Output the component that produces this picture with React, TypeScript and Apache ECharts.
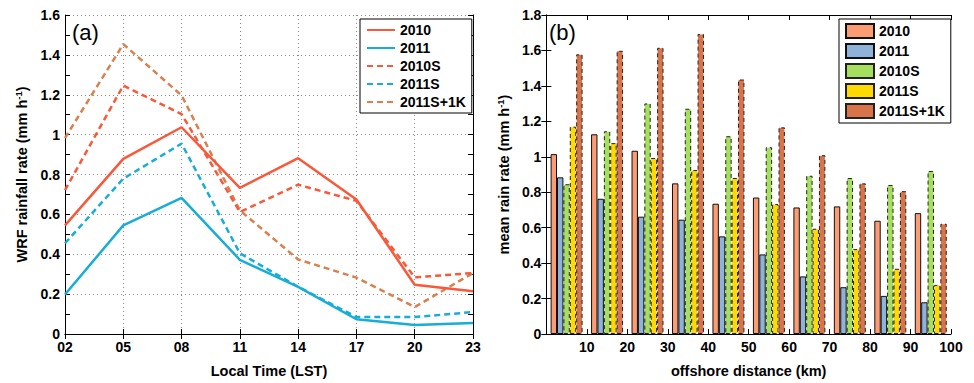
import React, { useEffect, useRef } from 'react';
import * as echarts from 'echarts';

// ---------- Panel (a): diurnal rainfall rate ----------
const hours = ['02', '05', '08', '11', '14', '17', '20', '23'];
const line2010 = [0.545, 0.878, 1.037, 0.733, 0.882, 0.675, 0.247, 0.215];
const line2011 = [0.198, 0.545, 0.683, 0.372, 0.236, 0.074, 0.045, 0.055];
const line2010S = [0.722, 1.246, 1.103, 0.612, 0.749, 0.668, 0.284, 0.306];
const line2011S = [0.455, 0.779, 0.955, 0.405, 0.237, 0.085, 0.085, 0.11];
const line2011S1K = [0.983, 1.454, 1.197, 0.62, 0.374, 0.283, 0.135, 0.306];

// ---------- Panel (b): mean rain rate vs offshore distance ----------
const binCenters = [5, 15, 25, 35, 45, 55, 65, 75, 85, 95];
const bar2010 = [1.015, 1.127, 1.034, 0.85, 0.735, 0.77, 0.714, 0.72, 0.639, 0.682];
const bar2011 = [0.884, 0.763, 0.662, 0.645, 0.551, 0.449, 0.325, 0.264, 0.215, 0.179];
const bar2010S = [0.845, 1.144, 1.301, 1.271, 1.116, 1.054, 0.893, 0.88, 0.841, 0.92];
const bar2011S = [1.17, 1.077, 0.993, 0.925, 0.88, 0.733, 0.594, 0.479, 0.368, 0.277];
const bar2011S1K = [1.578, 1.598, 1.615, 1.693, 1.436, 1.166, 1.009, 0.85, 0.806, 0.622];

const seriesNames = ['2010', '2011', '2010S', '2011S', '2011S+1K'];

const FONT = '"Liberation Sans", Arial, Helvetica, sans-serif';
const BLACK = '#000';

const tickLabel = { color: BLACK, fontWeight: 'bold' as const, fontSize: 14, fontFamily: FONT };
const nameStyle = {
  color: BLACK,
  fontWeight: 'bold' as const,
  fontSize: 14.5,
  fontFamily: FONT,
  rich: {
    sup: { fontSize: 9.5, fontWeight: 'bold' as const, fontFamily: FONT, color: BLACK, padding: [0, 0, 7, 0] },
  },
};
const legendBase = {
  orient: 'vertical' as const,
  top: 19,
  itemWidth: 28,
  itemHeight: 14,
  itemGap: 4,
  padding: [4, 6, 4, 6],
  borderColor: BLACK,
  borderWidth: 1,
  backgroundColor: '#fff',
  textStyle: { color: BLACK, fontWeight: 'bold' as const, fontSize: 14, fontFamily: FONT },
};

function leftOption(): any {
  const lineColors = ['#F9583A', '#17ADD7', '#F9583A', '#17ADD7', '#D9804F'];
  const lineData = [line2010, line2011, line2010S, line2011S, line2011S1K];
  return {
    animation: false,
    textStyle: { fontFamily: FONT },
    grid: { left: 65, top: 15, width: 408, height: 321 },
    legend: { ...legendBase, left: 360, data: seriesNames, itemStyle: { opacity: 0 } },
    xAxis: [
      {
        type: 'category',
        data: hours,
        boundaryGap: false,
        axisLine: { lineStyle: { color: BLACK, width: 1 } },
        axisTick: { inside: true, length: 5, lineStyle: { color: BLACK } },
        axisLabel: { ...tickLabel, margin: 6 },
        splitLine: { show: true, lineStyle: { color: '#8a8a8a', type: [1, 3], width: 1 } },
        name: 'Local Time (LST)',
        nameLocation: 'middle',
        nameGap: 29,
        nameTextStyle: nameStyle,
      },
      {
        type: 'category',
        data: hours,
        boundaryGap: false,
        position: 'top',
        axisLine: { lineStyle: { color: BLACK, width: 1 } },
        axisTick: { inside: true, length: 5, lineStyle: { color: BLACK } },
        axisLabel: { show: false },
        splitLine: { show: false },
      },
    ],
    yAxis: [
      {
        type: 'value',
        min: 0,
        max: 1.6,
        interval: 0.2,
        axisLine: { show: true, lineStyle: { color: BLACK, width: 1 } },
        axisTick: { show: true, inside: true, length: 5, lineStyle: { color: BLACK } },
        minorTick: { show: true, splitNumber: 2, length: 5, lineStyle: { color: BLACK } },
        axisLabel: { ...tickLabel, margin: 5 },
        splitLine: { show: true, lineStyle: { color: '#8a8a8a', type: [1, 3], width: 1 } },
        name: 'WRF rainfall rate (mm h{sup|-1})',
        nameLocation: 'middle',
        nameGap: 35,
        nameTextStyle: nameStyle,
      },
      {
        type: 'value',
        min: 0,
        max: 1.6,
        interval: 0.2,
        position: 'right',
        axisLine: { show: true, lineStyle: { color: BLACK, width: 1 } },
        axisTick: { show: true, inside: true, length: 5, lineStyle: { color: BLACK } },
        minorTick: { show: true, splitNumber: 2, length: 5, lineStyle: { color: BLACK } },
        axisLabel: { show: false },
        splitLine: { show: false },
      },
    ],
    graphic: [
      {
        type: 'text',
        left: 72,
        top: 21,
        style: { text: '(a)', fontSize: 22, fontFamily: FONT, fill: BLACK },
      },
    ],
    series: seriesNames.map((name, i) => ({
      name,
      type: 'line',
      xAxisIndex: 0,
      yAxisIndex: 0,
      symbol: 'none',
      data: lineData[i],
      lineStyle: { color: lineColors[i], width: 2.5, type: i < 2 ? 'solid' : [6, 4] },
      itemStyle: { color: lineColors[i] },
      z: 5 - i,
    })),
  };
}

function rightOption(): any {
  const barColors = ['#FC9C72', '#8FB2D8', '#A6DE5E', '#FFDA00', '#D9744A'];
  const barData = [bar2010, bar2011, bar2010S, bar2011S, bar2011S1K];
  return {
    animation: false,
    textStyle: { fontFamily: FONT },
    grid: { left: 57, top: 15, width: 407, height: 321 },
    legend: { ...legendBase, left: 352, icon: 'rect', data: seriesNames },
    xAxis: [
      {
        type: 'value',
        min: 0,
        max: 100,
        interval: 10,
        axisLine: { show: true, onZero: false, lineStyle: { color: BLACK, width: 1 } },
        axisTick: { show: true, inside: true, length: 5, lineStyle: { color: BLACK } },
        axisLabel: { ...tickLabel, margin: 6, formatter: (v: number) => (v === 0 ? '' : String(v)) },
        splitLine: { show: false },
        name: 'offshore distance (km)',
        nameLocation: 'middle',
        nameGap: 29,
        nameTextStyle: nameStyle,
      },
      {
        type: 'value',
        min: 0,
        max: 100,
        interval: 10,
        position: 'top',
        axisLine: { show: true, onZero: false, lineStyle: { color: BLACK, width: 1 } },
        axisTick: { show: true, inside: true, length: 5, lineStyle: { color: BLACK } },
        axisLabel: { show: false },
        splitLine: { show: false },
      },
    ],
    yAxis: [
      {
        type: 'value',
        min: 0,
        max: 1.8,
        interval: 0.2,
        axisLine: { show: true, lineStyle: { color: BLACK, width: 1 } },
        axisTick: { show: true, inside: true, length: 5, lineStyle: { color: BLACK } },
        axisLabel: { ...tickLabel, margin: 5 },
        splitLine: { show: false },
        name: 'mean rain rate (mm h{sup|-1})',
        nameLocation: 'middle',
        nameGap: 34,
        nameTextStyle: nameStyle,
      },
      {
        type: 'value',
        min: 0,
        max: 1.8,
        interval: 0.2,
        position: 'right',
        axisLine: { show: true, lineStyle: { color: BLACK, width: 1 } },
        axisTick: { show: true, inside: true, length: 5, lineStyle: { color: BLACK } },
        axisLabel: { show: false },
        splitLine: { show: false },
      },
    ],
    graphic: [
      {
        type: 'text',
        left: 62,
        top: 21,
        style: { text: '(b)', fontSize: 22, fontFamily: FONT, fill: BLACK },
      },
    ],
    series: seriesNames.map((name, i) => ({
      name,
      type: 'bar',
      xAxisIndex: 0,
      yAxisIndex: 0,
      barGap: '0%',
      barCategoryGap: '21%',
      data: binCenters.map((c, k) => [c, barData[i][k]]),
      itemStyle: {
        color: barColors[i],
        borderColor: i < 2 ? '#111' : '#222',
        borderWidth: 1,
        borderType: i < 2 ? 'solid' : [4, 3],
      },
    })),
  };
}

function Panel({ left, option }: { left: number; option: () => any }) {
  const ref = useRef<HTMLDivElement>(null);
  useEffect(() => {
    if (!ref.current) return;
    const chart = echarts.init(ref.current, undefined, { renderer: 'svg' });
    chart.setOption(option());
    return () => chart.dispose();
  }, [option]);
  return (
    <div
      ref={ref}
      style={{ position: 'absolute', left, top: 0, width: 487, height: 383 }}
    />
  );
}

export default function App() {
  return (
    <div
      style={{
        position: 'fixed',
        left: 0,
        top: 0,
        width: 974,
        height: 383,
        background: '#fff',
        overflow: 'hidden',
      }}
    >
      <Panel left={0} option={leftOption} />
      <Panel left={487} option={rightOption} />
    </div>
  );
}
